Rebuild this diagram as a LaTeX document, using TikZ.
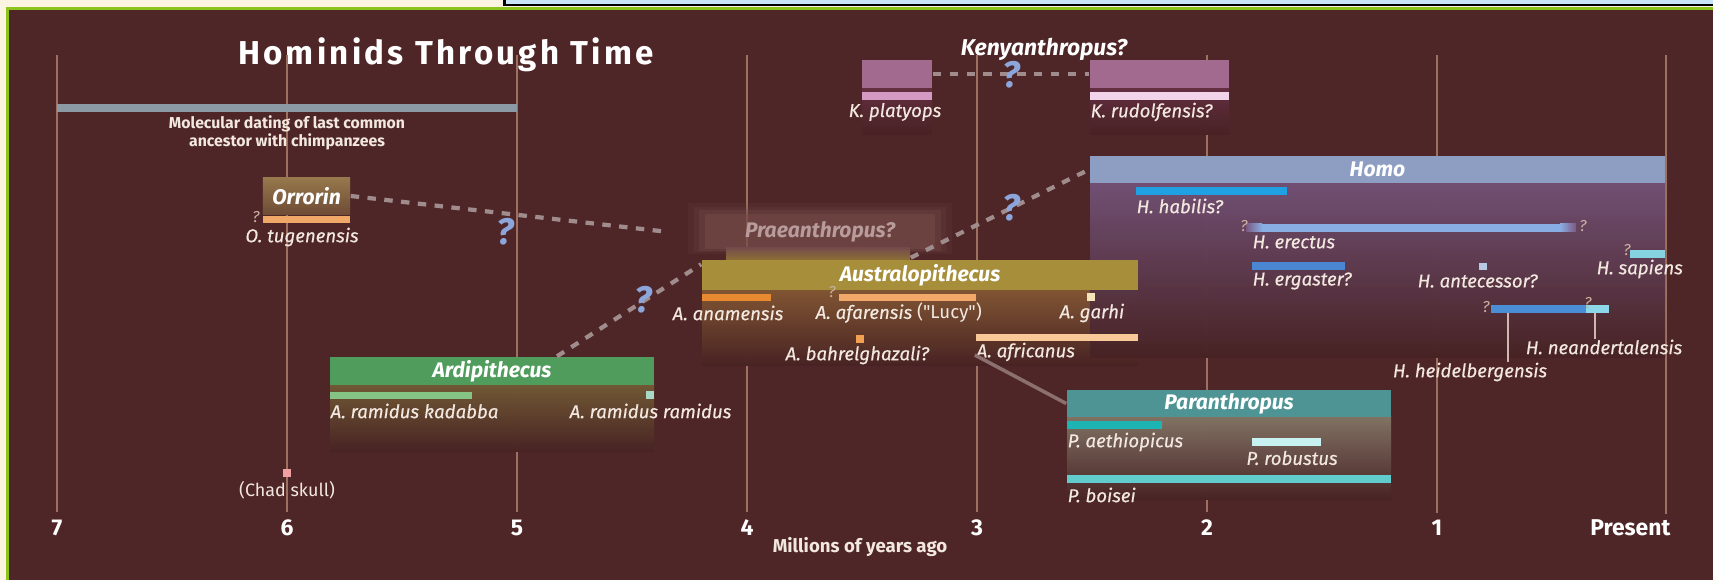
\documentclass[tikz,border=0pt]{standalone}
\usepackage{fontspec}
\setmainfont{Fira Sans}
\newfontfamily\qfont{Fira Sans}
\usepackage{xcolor}
\usepackage{tikz}

\definecolor{bg}{RGB}{79,38,39}
\definecolor{frame}{RGB}{140,196,28}
\definecolor{cream}{RGB}{251,244,224}
\definecolor{skyb}{RGB}{200,230,248}
\definecolor{gridc}{RGB}{158,112,96}
\definecolor{lbl}{RGB}{242,232,224}
\definecolor{mol}{RGB}{140,154,166}
\definecolor{dashc}{RGB}{160,140,140}
\definecolor{qblue}{RGB}{140,166,220}
\definecolor{qsmall}{RGB}{200,176,160}
\definecolor{orrtop}{RGB}{150,120,76}
\definecolor{orrbot}{RGB}{110,76,54}
\definecolor{orrbar}{RGB}{240,168,104}
\definecolor{ardhd}{RGB}{80,156,92}
\definecolor{ardlo}{RGB}{124,98,58}
\definecolor{kadbar}{RGB}{134,196,134}
\definecolor{ramsq}{RGB}{168,216,200}
\definecolor{chad}{RGB}{240,160,160}
\definecolor{praebox}{RGB}{118,76,74}
\definecolor{praetext}{RGB}{184,156,156}
\definecolor{austhd}{RGB}{166,142,58}
\definecolor{austlo}{RGB}{142,94,56}
\definecolor{anam}{RGB}{232,138,48}
\definecolor{afar}{RGB}{242,168,104}
\definecolor{garhi}{RGB}{244,228,184}
\definecolor{bahr}{RGB}{240,160,80}
\definecolor{afric}{RGB}{248,200,152}
\definecolor{kenhd}{RGB}{162,106,142}
\definecolor{kenlo}{RGB}{110,52,72}
\definecolor{platbar}{RGB}{212,154,196}
\definecolor{rudbar}{RGB}{242,212,234}
\definecolor{homohd}{RGB}{142,158,194}
\definecolor{homolo}{RGB}{124,88,128}
\definecolor{habil}{RGB}{30,160,226}
\definecolor{erect}{RGB}{136,174,228}
\definecolor{ergas}{RGB}{74,134,210}
\definecolor{antec}{RGB}{184,200,224}
\definecolor{sapi}{RGB}{134,212,224}
\definecolor{heid}{RGB}{74,142,214}
\definecolor{neand}{RGB}{140,216,232}
\definecolor{leader}{RGB}{208,184,176}
\definecolor{parahd}{RGB}{78,148,148}
\definecolor{paralo}{RGB}{142,126,110}
\definecolor{aeth}{RGB}{30,180,180}
\definecolor{robu}{RGB}{200,242,242}
\definecolor{bois}{RGB}{98,204,204}
\definecolor{plink}{RGB}{140,112,112}

\begin{document}
\begin{tikzpicture}[x=0.01cm,y=-0.01cm,
    sp/.style={text=lbl,font=\fontsize{5.3}{6}\selectfont\itshape\addfontfeature{FakeBold=0.4},inner sep=0pt},
    gen/.style={text=white,font=\fontsize{6}{7}\selectfont\bfseries\itshape,inner sep=0pt},
    tick/.style={text=white,font=\fontsize{6.5}{7}\selectfont\bfseries,inner sep=0pt},
    qbig/.style={text=qblue,font=\fontsize{10.5}{10.5}\selectfont\bfseries\itshape,inner sep=0pt},
    qsm/.style={text=qsmall,font=\fontsize{4.5}{5}\selectfont\itshape,inner sep=0pt},
    grid/.style={draw=gridc,line width=0.6pt},
    dashlink/.style={draw=dashc,line width=1.2pt,dash pattern=on 2.4pt off 2.4pt},
  ]
  \useasboundingbox (0,0) rectangle (1713,580);
  \fill[cream] (0,0) rectangle (1713,580);
  \fill[black] (503,0) rectangle (1713,6);
  \fill[skyb] (506,0) rectangle (1713,4);
  \fill[frame] (6,7) rectangle (1713,580);
  \fill[bg] (9,10) rectangle (1713,580);

  \node[text=white,font=\fontsize{9.4}{10}\selectfont\bfseries\addfontfeature{LetterSpace=10}] (T) at (446,55) {Hominids Through Time};

  \node[tick] (T7) at (57,528) {7};
  \node[tick] (T6) at (287,528) {6};
  \node[tick] (T5) at (517,528) {5};
  \node[tick] (T4) at (747,528) {4};
  \node[tick] (T3) at (977,528) {3};
  \node[tick] (T2) at (1207,528) {2};
  \node[tick] (T1) at (1437,528) {1};
  \node[tick,anchor=east] (TP) at (1671,528) {Present};
  \coordinate (T0) at (1666,514);
  \coordinate (G) at (0,55);
  \node[text=lbl,font=\fontsize{5.3}{6}\selectfont\bfseries,inner sep=0pt] (M) at (860,547) {Millions of years ago};

  \draw[grid,shorten <=2pt] (T7.north) -- (T7.north |- G);
  \draw[grid,shorten <=2pt] (T6.north) -- (T6.north |- G);
  \draw[grid,shorten <=2pt] (T5.north) -- (T5.north |- G);
  \draw[grid,shorten <=2pt] (T4.north) -- (T4.north |- G);
  \draw[grid,shorten <=2pt] (T3.north) -- (T3.north |- G);
  \draw[grid,shorten <=2pt] (T2.north) -- (T2.north |- G);
  \draw[grid,shorten <=2pt] (T1.north) -- (T1.north |- G);
  \draw[grid] (T0) -- (T0 |- G);

  % last common ancestor
  \fill[mol] (57,104) rectangle (517,112);
  \node[text=lbl,font=\fontsize{4.5}{5}\selectfont\bfseries,align=center,inner sep=0pt] (Mo) at (287,133) {Molecular dating of last common\\ancestor with chimpanzees};

  % genus boxes, fading parts
  \fill[top color=ardlo,bottom color=bg,fill opacity=0.9] (330,385) rectangle (654,452);
  \fill[top color=austlo,bottom color=bg,fill opacity=0.9] (702,290) rectangle (1138,366);
  \fill[praebox,fill opacity=0.15] (688,203) rectangle (952,254);
  \fill[praebox,fill opacity=0.2] (694,207) rectangle (946,252);
  \fill[praebox,fill opacity=0.3] (699,210) rectangle (941,251);
  \fill[praebox,fill opacity=0.5] (705,214) rectangle (935,249);
  \fill[top color=praebox,bottom color=austhd!70!bg] (726,248) rectangle (910,260);
  \fill[top color=kenlo,bottom color=bg,fill opacity=0.9] (862,88) rectangle (932,135);
  \fill[top color=kenlo,bottom color=bg,fill opacity=0.9] (1090,88) rectangle (1229,135);
  \fill[top color=homolo,bottom color=bg,fill opacity=0.9] (1090,183) rectangle (1665,358);
  \fill[top color=paralo,bottom color=bg,fill opacity=0.9] (1067,417) rectangle (1391,500);

  % genus headers
  \node[gen,minimum width=0.87cm,minimum height=0.36cm,top color=orrtop,bottom color=orrbot] (Or) at (306.5,196) {Orrorin};
  \node[gen,minimum width=3.24cm,minimum height=0.28cm,fill=ardhd] (Ar) at (492,371) {Ardipithecus};
  \node[gen,minimum width=2.34cm,minimum height=0.37cm,text=praetext] (Pr) at (820,231.5) {Praeanthropus?};
  \node[gen,minimum width=4.36cm,minimum height=0.30cm,fill=austhd] (Au) at (920,275) {Australopithecus};
  \node[gen,minimum width=0.70cm,minimum height=0.28cm,fill=kenhd] (Kp) at (897,74) {};
  \node[gen,minimum width=1.39cm,minimum height=0.28cm,fill=kenhd] (Kr) at (1159.5,74) {};
  \node[gen,font=\fontsize{6.5}{7}\selectfont\bfseries\itshape] (Ke) at (1044,49) {Kenyanthropus?};
  \node[gen,minimum width=5.75cm,minimum height=0.27cm,fill=homohd] (Ho) at (1377.5,169.5) {Homo};
  \node[gen,minimum width=3.24cm,minimum height=0.27cm,fill=parahd] (Pa) at (1229,403.5) {Paranthropus};

  % species bars
  \fill[orrbar] (263,216) rectangle (350,223);
  \fill[kadbar] (330,392) rectangle (472,399);
  \fill[ramsq] (646,391) rectangle (654,399);
  \fill[chad] (283,469) rectangle (291,477);
  \fill[anam] (702,294) rectangle (771,301);
  \fill[afar] (839,294) rectangle (976,301);
  \fill[garhi] (1087,293) rectangle (1095,301);
  \fill[bahr] (856,335) rectangle (864,343);
  \fill[afric] (976,334) rectangle (1138,341);
  \fill[platbar] (862,92) rectangle (932,100);
  \fill[rudbar] (1090,92) rectangle (1229,100);
  \fill[habil] (1136,187) rectangle (1287,195);
  \fill[left color=homolo,right color=erect] (1246,224) rectangle (1262,232);
  \fill[erect] (1262,224) rectangle (1560,232);
  \fill[left color=erect,right color=homolo] (1560,224) rectangle (1576,232);
  \fill[ergas] (1252,262) rectangle (1345,270);
  \fill[antec] (1479,263) rectangle (1487,270);
  \fill[sapi] (1630,250) rectangle (1665,258);
  \fill[heid] (1491,305) rectangle (1586,313);
  \fill[neand] (1586,305) rectangle (1609,313);
  \fill[aeth] (1067,421) rectangle (1162,429);
  \fill[robu] (1252,438) rectangle (1321,446);
  \fill[bois] (1067,475) rectangle (1391,483);

  % species labels
  \node[sp] (Ot) at (302,237) {O. tugenensis};
  \node[sp,anchor=west] (Ak) at (330,411) {A. ramidus kadabba};
  \node[sp,anchor=west] (Ar2) at (569,411) {A. ramidus ramidus};
  \node[text=lbl,font=\fontsize{5.1}{6}\selectfont,inner sep=0pt] (Ch) at (287,490) {(Chad skull)};
  \node[sp,anchor=west] (Aa) at (672,313) {A. anamensis};
  \node[sp,anchor=west] (Af) at (815,313) {A. afarensis {\qfont\upshape ("Lucy")}};
  \node[sp,anchor=west] (Ag) at (1059,313) {A. garhi};
  \node[sp,anchor=west] (Ab) at (785,355) {A. bahrelghazali?};
  \node[sp,anchor=west] (Ac) at (976,352) {A. africanus};
  \node[sp] (Kpl) at (895,112) {K. platyops};
  \node[sp,anchor=west] (Kru) at (1090,112) {K. rudolfensis?};
  \node[sp,anchor=west] (Hha) at (1136,206) {H. habilis?};
  \node[sp,anchor=west] (He) at (1252,242) {H. erectus};
  \node[sp,anchor=west] (Hg) at (1252,281) {H. ergaster?};
  \node[sp,anchor=west] (Han) at (1417,281) {H. antecessor?};
  \node[sp,anchor=west] (Hs) at (1596,269) {H. sapiens};
  \node[sp] (Hh) at (1470,372) {H. heidelbergensis};
  \node[sp] (Hn) at (1604,347) {H. neandertalensis};
  \node[sp,anchor=west] (Pae) at (1067,442) {P. aethiopicus};
  \node[sp] (Pro) at (1292,458) {P. robustus};
  \node[sp,anchor=west] (Pbo) at (1067,495) {P. boisei};

  % small question marks
  \node[qsm] (q1) at (256,217) {?};
  \node[qsm] (q2) at (832,292) {?};
  \node[qsm] (q3) at (1244,226) {?};
  \node[qsm] (q4) at (1583,226) {?};
  \node[qsm] (q5) at (1627,250) {?};
  \node[qsm] (q6) at (1486,307) {?};
  \node[qsm] (q7) at (1588,303) {?};

  % leaders
  \coordinate (hb) at (1508,313);
  \coordinate (nb) at (1595,313);
  \draw[leader,line width=0.6pt] (hb) -- (hb |- Hh.north);
  \draw[leader,line width=0.6pt] (nb) -- (nb |- Hn.north);

  % links between genera
  \draw[dashlink] (Or.east) -- ([xshift=-0.38cm]Pr.west);
  \draw[dashlink] ([xshift=0.65cm]Ar.north) -- ([yshift=-0.05cm]Au.north west);
  \draw[dashlink] ([xshift=-0.27cm,yshift=-0.07cm]Pr.south east) -- (Ho.west);
  \draw[dashlink] (Kp.east) -- (Kr.west);
  \draw[plink,line width=1pt] ([xshift=0.45cm]Ab.east) -- (Pa.west);

  \node[qbig] (Q1) at (505,232) {?};
  \node[qbig] (Q2) at (643,300) {?};
  \node[qbig] (Q3) at (1011,208) {?};
  \node[qbig] (Q4) at (1011,75) {?};
\end{tikzpicture}
\end{document}
